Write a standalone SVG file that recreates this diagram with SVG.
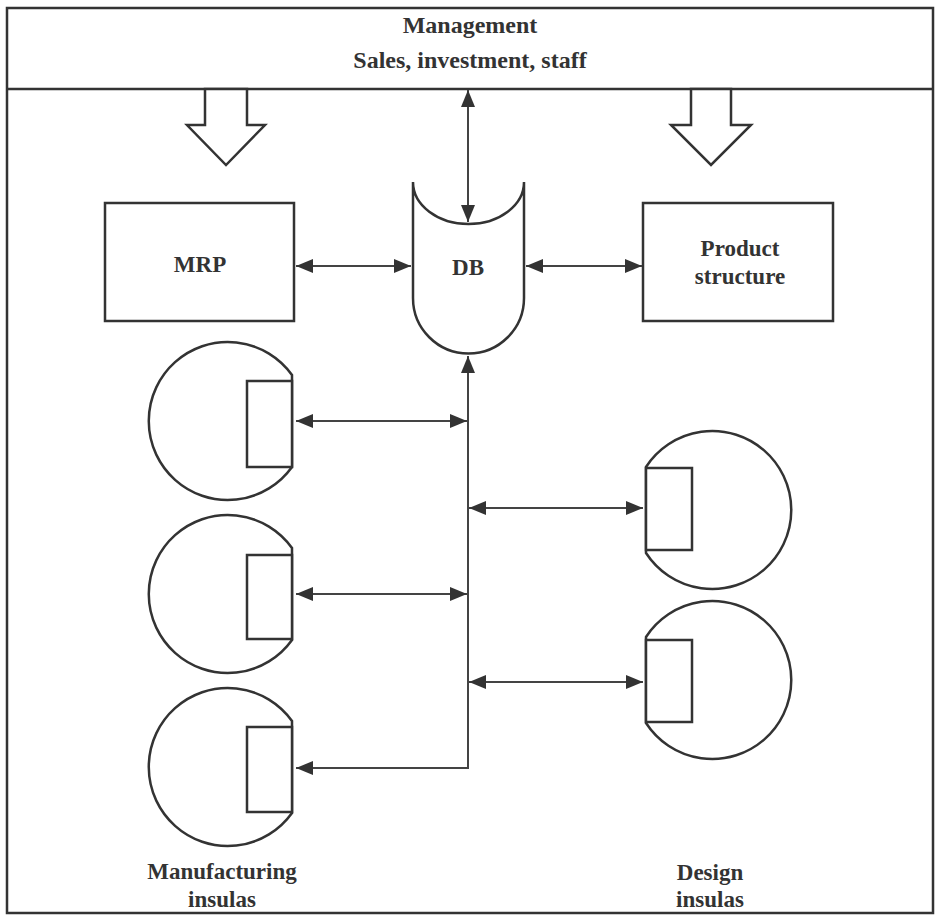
<svg xmlns="http://www.w3.org/2000/svg" width="942" height="919" viewBox="0 0 942 919">
<style>
.s{fill:#fff;stroke:#333;stroke-width:2.5}
.c{fill:none;stroke:#444;stroke-width:2}
.t{font-family:"Liberation Serif","Times New Roman",serif;font-weight:bold;font-size:23px;fill:#333;text-anchor:middle}
</style>
<defs>
<marker id="ah" viewBox="0 0 17 14" refX="17" refY="7" markerWidth="17" markerHeight="14" markerUnits="userSpaceOnUse" orient="auto-start-reverse">
<path d="M0,0 L17,7 L0,14 Z" fill="#333"/>
</marker>
</defs>
<rect width="942" height="919" fill="#fff"/>
<g id="frame">
<rect class="s" x="7" y="8" width="926" height="905"/>
<line class="s" x1="7" y1="89" x2="933" y2="89"/>
</g>
<g id="management">
<text class="t" x="470" y="33" style="font-size:24px">Management</text>
<text class="t" x="470" y="68" style="font-size:24px">Sales, investment, staff</text>
</g>
<g id="hollow-arrows">
<polygon class="s" points="205,89 247,89 247,125 265,125 226,165 187,125 205,125"/>
<polygon class="s" points="691,89 731,89 731,125 751,125 711,165 671,125 691,125"/>
</g>
<g id="mrp">
<rect class="s" x="105" y="203" width="189" height="118"/>
<text class="t" x="200" y="272">MRP</text>
</g>
<g id="db">
<path class="s" d="M413,182 A55.5,42 0 0 0 524,182 L524,298 A55.5,55.5 0 0 1 413,298 Z"/>
<text class="t" x="468" y="275">DB</text>
</g>
<g id="product-structure">
<rect class="s" x="643" y="203" width="190" height="118"/>
<text class="t" x="740" y="256">Product</text>
<text class="t" x="740" y="284">structure</text>
</g>
<g id="manufacturing-1">
<path class="s" d="M292,375 A79,79 0 1 0 292,467 Z"/>
<rect class="s" x="247" y="381" width="45" height="86"/>
</g>
<g id="manufacturing-2">
<path class="s" d="M292,548 A79,79 0 1 0 292,640 Z"/>
<rect class="s" x="247" y="555" width="45" height="84"/>
</g>
<g id="manufacturing-3">
<path class="s" d="M292,721 A79,79 0 1 0 292,813 Z"/>
<rect class="s" x="247" y="727" width="45" height="85"/>
</g>
<g id="design-1">
<path class="s" d="M646,467 A79,79 0 1 1 646,553 Z"/>
<rect class="s" x="646" y="468" width="46" height="82"/>
</g>
<g id="design-2">
<path class="s" d="M646,637 A79,79 0 1 1 646,723 Z"/>
<rect class="s" x="646" y="640" width="46" height="82"/>
</g>
<g id="labels">
<text class="t" x="222" y="879">Manufacturing</text>
<text class="t" x="222" y="907">insulas</text>
<text class="t" x="710" y="880">Design</text>
<text class="t" x="710" y="907">insulas</text>
</g>
<g id="connectors">
<line class="c" x1="296" y1="266" x2="411" y2="266" marker-start="url(#ah)" marker-end="url(#ah)"/>
<line class="c" x1="526" y1="266" x2="642" y2="266" marker-start="url(#ah)" marker-end="url(#ah)"/>
<line class="c" x1="468" y1="90" x2="468" y2="222" marker-start="url(#ah)" marker-end="url(#ah)"/>
<polyline class="c" points="468,356 468,768 296,768" marker-start="url(#ah)" marker-end="url(#ah)"/>
<line class="c" x1="296" y1="421" x2="467" y2="421" marker-start="url(#ah)" marker-end="url(#ah)"/>
<line class="c" x1="296" y1="594" x2="467" y2="594" marker-start="url(#ah)" marker-end="url(#ah)"/>
<line class="c" x1="469" y1="508" x2="643" y2="508" marker-start="url(#ah)" marker-end="url(#ah)"/>
<line class="c" x1="469" y1="682" x2="643" y2="682" marker-start="url(#ah)" marker-end="url(#ah)"/>
</g>
</svg>
